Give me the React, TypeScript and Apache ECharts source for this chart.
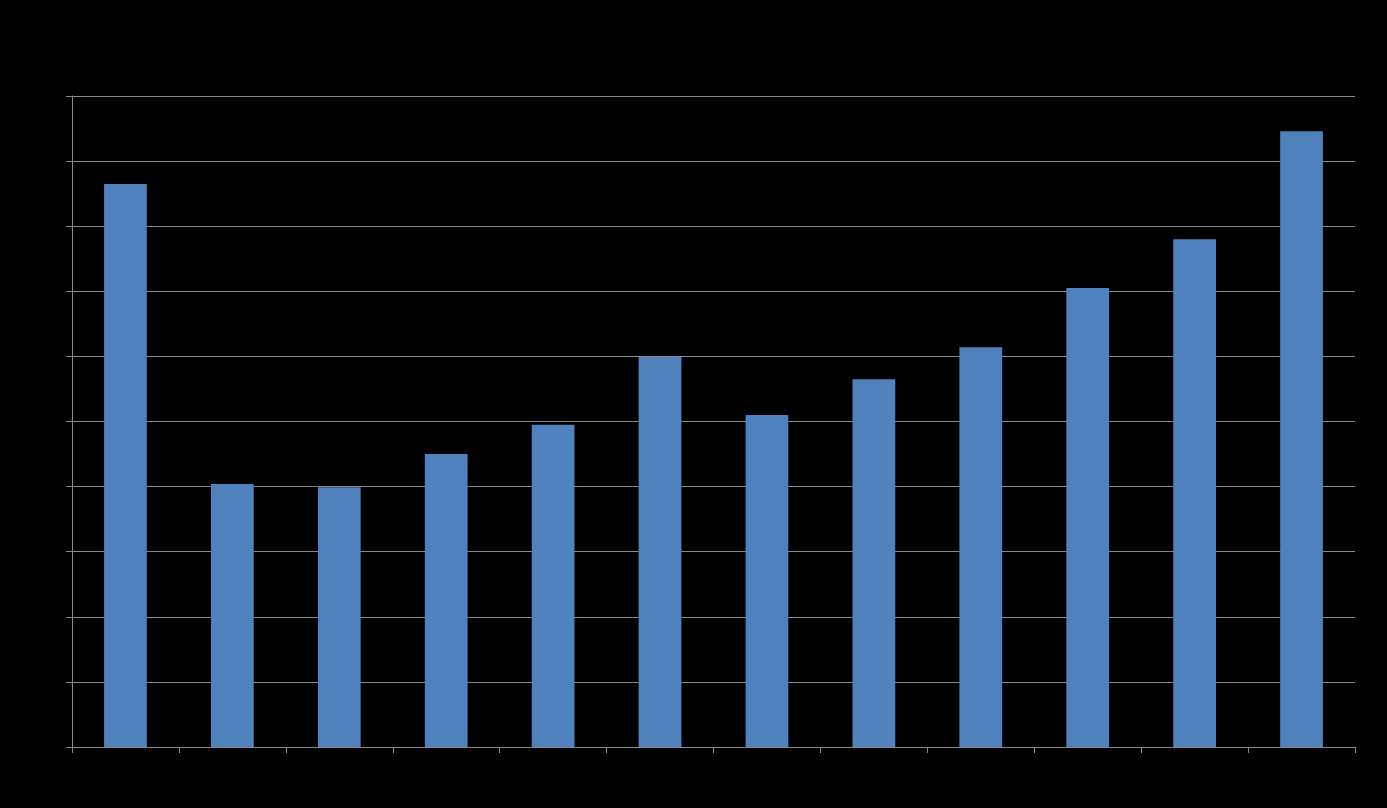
import React, { useEffect, useRef } from "react";
import * as echarts from "echarts";

const categories = ["Jan", "Feb", "Mar", "Apr", "May", "Jun", "Jul", "Aug", "Sep", "Oct", "Nov", "Dec"];
const values = [86.5, 40.4, 39.9, 45.0, 49.5, 59.9, 51.0, 56.5, 61.4, 70.5, 78.0, 94.6];
const yMin = 0;
const yMax = 100;
const yStep = 10;

export default function App() {
  const ref = useRef<HTMLDivElement>(null);
  useEffect(() => {
    if (!ref.current) return;
    const chart = echarts.init(ref.current, null, { renderer: "svg" });
    const gray = "#878787";
    chart.setOption({
      animation: false,
      backgroundColor: "#000000",
      grid: { left: 72, right: 32, top: 96, bottom: 61, containLabel: false },
      xAxis: {
        type: "category",
        data: categories,
        boundaryGap: true,
        axisLine: { show: true, lineStyle: { color: gray, width: 1 } },
        axisTick: { show: true, length: 6, inside: false, lineStyle: { color: gray } },
        axisLabel: { show: false },
        splitLine: { show: false },
      },
      yAxis: {
        type: "value",
        min: yMin,
        max: yMax,
        interval: yStep,
        axisLine: { show: true, lineStyle: { color: gray, width: 1 } },
        axisTick: { show: true, length: 6, inside: false, lineStyle: { color: gray } },
        axisLabel: { show: false },
        splitLine: { show: true, lineStyle: { color: gray, width: 1 } },
      },
      series: [
        {
          type: "bar",
          data: values,
          barWidth: "40%",
          itemStyle: { color: "#4F81BD" },
        },
      ],
    });
    return () => chart.dispose();
  }, []);
  return (
    <div
      ref={ref}
      style={{ position: "fixed", left: 0, top: 0, width: 1387, height: 808, background: "#000" }}
    />
  );
}
